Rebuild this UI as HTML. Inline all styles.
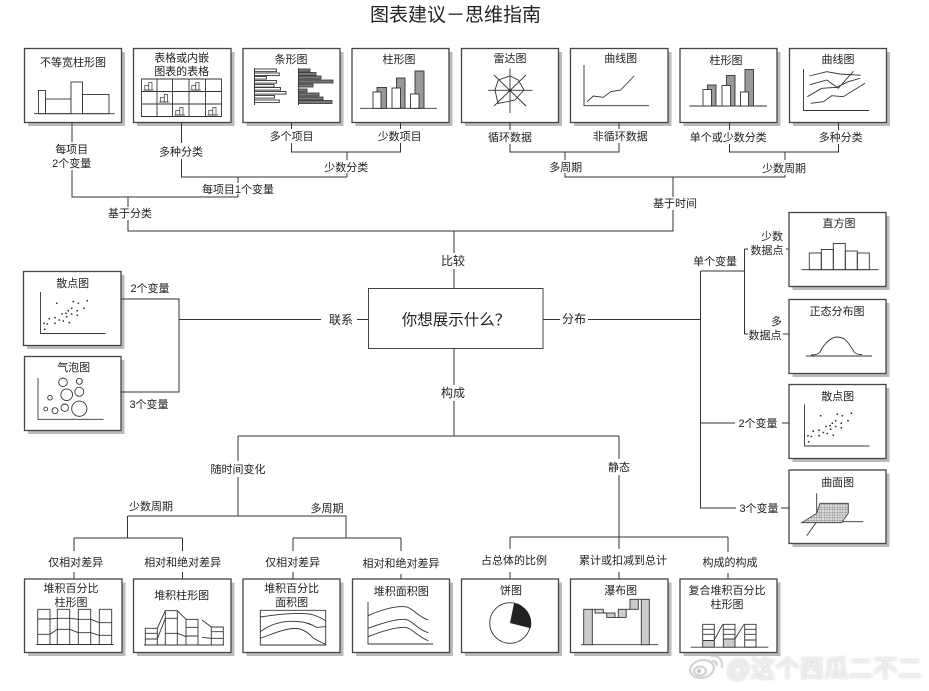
<!DOCTYPE html>
<html lang="zh">
<head>
<meta charset="utf-8">
<title>图表建议－思维指南</title>
<style>
html,body{margin:0;padding:0;background:#fff;width:929px;height:691px;overflow:hidden}
svg{display:block;filter:blur(.3px)}
text{font-family:"Liberation Sans","Noto Sans CJK SC",sans-serif;font-size:11px;fill:#222;text-anchor:middle}
.s{fill:#bbb;stroke:none}
.b{fill:#fff;stroke:#444;stroke-width:1.3}
.c{fill:none;stroke:#333;stroke-width:1}
.g{fill:none;stroke:#333;stroke-width:.9}
.w{fill:#fff;stroke:#333;stroke-width:.9}
.d{fill:#999;stroke:#333;stroke-width:.9}
.k{fill:#777;stroke:#333;stroke-width:.8}
.l{fill:#ccc;stroke:#333;stroke-width:.9}
.wm{font-size:24.5px;fill:#f2f2f2;filter:blur(.5px) drop-shadow(.8px .8px 1.2px #bbb)}
</style>
</head>
<body>
<svg width="929" height="691" viewBox="0 0 929 691" xmlns="http://www.w3.org/2000/svg">
<defs>
<g id="mini">
<rect x="1.3" y="4" width="4" height="4.5" fill="#fff" stroke="#333" stroke-width=".7"/>
<rect x="5.3" y="1" width="3.2" height="7.5" fill="#fff" stroke="#333" stroke-width=".7"/>
<path d="M0 8.5H10.5" stroke="#333" stroke-width=".7" fill="none"/>
</g>
<pattern id="h" width="2.6" height="2.6" patternUnits="userSpaceOnUse">
<rect width="2.6" height="2.6" fill="#ddd"/>
<path d="M0 0H2.6M0 0V2.6" stroke="#666" stroke-width=".55"/>
</pattern>
<g id="dots" fill="#333">
<circle cx="44.7" cy="329.3" r=".9"/><circle cx="44" cy="323.3" r=".9"/><circle cx="47.3" cy="324" r=".9"/><circle cx="49.3" cy="318.7" r=".9"/><circle cx="55" cy="323.3" r=".9"/><circle cx="55" cy="317.7" r=".9"/><circle cx="59.3" cy="320" r=".9"/><circle cx="63.3" cy="321" r=".9"/><circle cx="69.3" cy="322.7" r=".9"/><circle cx="66.7" cy="316.7" r=".9"/><circle cx="62" cy="314" r=".9"/><circle cx="66" cy="313.3" r=".9"/><circle cx="68.3" cy="310.7" r=".9"/><circle cx="71.7" cy="308.3" r=".9"/><circle cx="77.3" cy="310.7" r=".9"/><circle cx="77.3" cy="315.3" r=".9"/><circle cx="71.7" cy="314" r=".9"/><circle cx="56.7" cy="303.3" r=".9"/><circle cx="73.3" cy="301.7" r=".9"/><circle cx="78.3" cy="303.3" r=".9"/><circle cx="87.3" cy="300.7" r=".9"/><circle cx="84" cy="308.3" r=".9"/>
<path class="g" d="M40.5 292V333.5H105.5"/>
</g>
</defs>

<!-- Shadows -->
<g class="s">
<rect x="28" y="52" width="97" height="74"/><rect x="137" y="52" width="97.5" height="74"/><rect x="246.5" y="52" width="97" height="74"/><rect x="355.5" y="52" width="97" height="74"/>
<rect x="465" y="52" width="97" height="74"/><rect x="574" y="52" width="97.5" height="74"/><rect x="683.5" y="52" width="97" height="74"/><rect x="793" y="52" width="97" height="74"/>
<rect x="27" y="275" width="97.5" height="74"/><rect x="28" y="360" width="96.5" height="74"/>
<rect x="792.5" y="216" width="97" height="74"/><rect x="792.5" y="303" width="97" height="74"/><rect x="792.5" y="388" width="97" height="74"/><rect x="792.5" y="473.5" width="97" height="73.5"/>
<rect x="28" y="582.5" width="97.5" height="73.5"/><rect x="137" y="582.5" width="97.5" height="73.5"/><rect x="246.5" y="582.5" width="97" height="73.5"/><rect x="356" y="582.5" width="97" height="73.5"/>
<rect x="465" y="582.5" width="97" height="73.5"/><rect x="574" y="582.5" width="97.5" height="73.5"/><rect x="683.5" y="582.5" width="97" height="73.5"/>
</g>

<!-- Connectors -->
<g class="c">
<path d="M72 122.5V142M72 170V197H238"/>
<path d="M181.5 122.5V143M181.5 159V177H347M347 173V177M238 177V183M238 194V197"/>
<path d="M291.5 122.5V129M291.5 143V152H400.5V143M400.5 122.5V129M347 152V160"/>
<path d="M128 197V207M128 220V231H673V210M673 197V177H565V173M673 177H785V175M565 152V160M785 152V160"/>
<path d="M510 122.5V130M510 144V152H619V143M619 122.5V129"/>
<path d="M729.5 122.5V130M729.5 144V152H838.5V144M838.5 122.5V130"/>
<path d="M454 231V253M454 269V288.5M454 348.5V385M454 401V436"/>
<path d="M121.5 299H179V392H121.5M179 319.5H321M357 319.5H368.5"/>
<path d="M543 319.5H560M588 319.5H700.5"/>
<path d="M700.5 271V508H736M781 508H789M700.5 423H735M782 423H789M700.5 271H744.5M744.5 249V334H748M744.5 249H748M783 334H789M786 249H789"/>
<path d="M238 436H619M238 436V461M238 477V516M619 436V459M619 475V537"/>
<path d="M127.5 516H346V538M127.5 516V538M74 538H182.5M74 538V551M182.5 538V551M293 538H401M293 538V551M401 538V551"/>
<path d="M510 537H728M510 537V549M728 537V552M619 537V549"/>
<path d="M74 572V579M182.5 572V579M293 572V579M401 574V579M510 572V579M619 572V579M728 573V579"/>
</g>

<!-- Boxes -->
<g class="b">
<rect x="24.5" y="48.5" width="97" height="74"/><rect x="133.5" y="48.5" width="97.5" height="74"/><rect x="243" y="48.5" width="97" height="74"/><rect x="352" y="48.5" width="97" height="74"/>
<rect x="461.5" y="48.5" width="97" height="74"/><rect x="570.5" y="48.5" width="97.5" height="74"/><rect x="680" y="48.5" width="97" height="74"/><rect x="789.5" y="48.5" width="97" height="74"/>
<rect x="23.5" y="271.5" width="97.5" height="74"/><rect x="24.5" y="356.5" width="96.5" height="74"/>
<rect x="368.5" y="288.5" width="174.5" height="60" stroke-width="1"/>
<rect x="789" y="212.5" width="97" height="74"/><rect x="789" y="299.5" width="97" height="74"/><rect x="789" y="384.5" width="97" height="74"/><rect x="789" y="470" width="97" height="73.5"/>
<rect x="24.5" y="579" width="97.5" height="73.5"/><rect x="133.5" y="579" width="97.5" height="73.5"/><rect x="243" y="579" width="97" height="73.5"/><rect x="352.5" y="579" width="97" height="73.5"/>
<rect x="461.5" y="579" width="97" height="73.5"/><rect x="570.5" y="579" width="97.5" height="73.5"/><rect x="680" y="579" width="97" height="73.5"/>
</g>

<!-- 不等宽柱形图 -->
<path class="g" d="M34 113.7H114.7"/>
<rect class="g" x="38.5" y="90.5" width="7" height="23.2"/>
<rect class="g" x="45.5" y="99" width="25.5" height="14.7"/>
<rect class="w" x="71" y="82" width="11.5" height="31.7"/>
<rect class="g" x="82.5" y="94.5" width="26.5" height="19.2"/>
<!-- 表格 -->
<path class="g" d="M141.5 79H221.5V116.5H141.5ZM141.5 91.5H221.5M141.5 104H221.5M157 79V116.5M172.5 79V116.5M189 79V116.5M205.5 79V116.5"/>
<use href="#mini" x="143.5" y="81.5"/><use href="#mini" x="190.5" y="81.5"/><use href="#mini" x="159" y="93.5"/><use href="#mini" x="174.5" y="106.5"/><use href="#mini" x="207.5" y="106.5"/>
<!-- 条形图 -->
<g class="w">
<rect x="254.5" y="69" width="22" height="2.6"/><rect x="254.5" y="73" width="24.8" height="2.6"/><rect x="254.5" y="76.5" width="12" height="2.6"/><rect x="254.5" y="80.5" width="22" height="2.6"/><rect x="254.5" y="84.5" width="19.5" height="2.6"/><rect x="254.5" y="87.5" width="26" height="2.6"/><rect x="254.5" y="91.5" width="31.5" height="2.6"/><rect x="254.5" y="95.5" width="20" height="2.6"/><rect x="254.5" y="100" width="24.8" height="2.6"/>
</g>
<path class="g" d="M254.5 68V105M298.5 68V105"/>
<g class="k">
<rect x="298.5" y="69" width="11.5" height="3"/><rect x="298.5" y="72.5" width="17.5" height="3"/><rect x="298.5" y="76" width="22.5" height="3"/><rect x="298.5" y="80" width="34.5" height="3"/><rect x="298.5" y="84" width="14.5" height="3"/><rect x="298.5" y="89" width="8.5" height="3"/><rect x="298.5" y="93" width="20.5" height="3"/><rect x="298.5" y="97" width="24.5" height="3"/><rect x="298.5" y="100.5" width="33.5" height="3"/>
</g>
<!-- 柱形图 1 -->
<path class="g" d="M360 108.3H437"/>
<rect class="d" x="377" y="87.5" width="9.5" height="20.8"/><rect class="w" x="373" y="92" width="8" height="16.3"/>
<rect class="d" x="396.5" y="78" width="8.5" height="30.3"/><rect class="w" x="392" y="88" width="8.5" height="20.3"/>
<rect class="d" x="415" y="71" width="9" height="37.3"/><rect class="w" x="410.5" y="94" width="8.5" height="14.3"/>
<!-- 雷达图 -->
<path class="g" d="M488 90.3H532.5M510 68.5V113M494 75L526 106M526 75L494 106"/>
<path class="g" d="M498.3 80L510 76L518.3 80L524 90L515 100L498 103.5L495 90Z"/>
<circle cx="510" cy="90.3" r="1.6" fill="#333"/>
<!-- 曲线图 1 -->
<path class="g" d="M584 65V105.7H649M587.3 101.7L593.3 96L603.3 97.3L610.7 91.7L620.7 90L634 76"/>
<!-- 柱形图 2 -->
<path class="g" d="M689.5 106H767"/>
<rect class="d" x="707.5" y="85" width="8.5" height="21"/><rect class="w" x="703" y="89.5" width="8.5" height="16.5"/>
<rect class="d" x="726.5" y="75.5" width="8.5" height="30.5"/><rect class="w" x="722" y="85.5" width="8.5" height="20.5"/>
<rect class="d" x="745" y="69.5" width="8.5" height="36.5"/><rect class="w" x="740.5" y="92" width="8" height="14"/>
<!-- 曲线图 2 -->
<path class="g" d="M803.5 69V110.5H869M809.3 76L826.7 71.7L840 74L860.7 75.3M810 84.7L826.7 80L838.3 88.3L853.3 71.3M807.3 96.7L821.7 88.3L836.7 87.3L848.3 81.7L860 78.3M810.7 103.3L823.3 101.7L831.7 95.7L843.3 96.7L865 83.3"/>
<!-- 散点图 / 气泡图 -->
<use href="#dots"/>
<use href="#dots" x="764" y="112.5"/>
<path class="g" d="M38 378V419.3H103.5"/>
<g class="g">
<circle cx="63" cy="382.3" r="4.3"/><circle cx="79.3" cy="381.3" r="3"/><circle cx="66.7" cy="394.7" r="5.8"/><circle cx="79.3" cy="391.7" r="4.5"/><circle cx="50" cy="397.7" r="2.3"/><circle cx="45.7" cy="409" r="1.9"/><circle cx="55" cy="410.7" r="3"/><circle cx="64.7" cy="407.7" r="3.7"/><circle cx="79.3" cy="408.7" r="7.6"/>
</g>
<!-- 直方图 -->
<path class="g" d="M801.3 269.7H878.7"/>
<g class="g">
<rect x="809.3" y="253" width="12" height="16.7"/><rect x="821.3" y="249.5" width="12" height="20.2"/><rect x="833.3" y="243.5" width="12" height="26.2"/><rect x="845.3" y="251" width="12" height="18.7"/><rect x="857.3" y="253" width="12" height="16.7"/>
</g>
<!-- 正态分布图 -->
<path class="g" d="M806 356H872M811 355Q818 355 820 352C825 342 832 337 837 337C845 337 848 342 853 350Q855 355 862 354.5"/>
<!-- 曲面图 -->
<path class="g" d="M816.7 493.3V521.7H863.3M816.7 521.7L806.7 535.7"/>
<path fill="url(#h)" stroke="#333" stroke-width=".8" d="M820 503.3H848.3V513.3L841.7 522.7H801.7L816.7 513.3Z"/>
<!-- 堆积百分比柱形图 -->
<path class="g" d="M36.3 644.5H113.5"/>
<path class="g" d="M37.7 609.3H50V644.5H37.7ZM57.3 609.3H69.7V644.5H57.3ZM78.3 609.3H90.7V644.5H78.3ZM99.3 609.3H111.7V644.5H99.3Z"/>
<path class="g" d="M37.7 619L50 619L57.3 618.3L69.7 618.3L78.3 619.3L90.7 619.3L99.3 622.7L111.7 622.7M37.7 634.3L50 634.3L57.3 629.3L69.7 629.3L78.3 632.7L90.7 632.7L99.3 635.3L111.7 635.3"/>
<!-- 堆积柱形图 -->
<path class="g" d="M144 645H224M145.3 628.3H157.3V645H145.3ZM165.3 610.7H177.3V645H165.3ZM186 619.3H198V645H186ZM211.3 627H223.3V645H211.3Z"/>
<path class="g" d="M145.3 633.3H157.3M145.3 639H157.3M165.3 618.3H177.3M165.3 633.3H177.3M186 627.3H198M186 636H198M211.3 631.7H223.3M211.3 638.3H223.3"/>
<path class="g" d="M157.3 628.3L165.3 610.7M157.3 639L165.3 618.3M177.3 610.7L186 619.3M177.3 633.3L186 636.7M202 620L211.3 627M202 637.3L211.3 638.3"/>
<!-- 堆积百分比面积图 -->
<path class="g" d="M260.3 610.3H325.7V645H260.3Z"/>
<path class="g" d="M260.3 617C280 614 300 612 312 614.5Q320 617 325.7 620.7M260.3 631.7C272 623 285 620.5 297 621.5Q308 622 317 627.5Q320 627 325.7 626.7M260.3 638.3C275 633 285 628.5 295 628.5Q305 628.5 313 638Q320 642 325.7 644.3"/>
<!-- 堆积面积图 -->
<path class="g" d="M368 602V644H433M368 615.7C385 608 398 606 405 606.7C412 607 418 617 428.3 620M368 628.3C385 622 398 619 405 619.3C412 620 418 630 428.3 632.7M368 636.7C385 630 398 627 405 627.3C412 628 418 637 428.3 640.7"/>
<!-- 饼图 -->
<circle class="g" cx="510" cy="623" r="20.3"/>
<path d="M510 623L514 603.3A20.3 20.3 0 0 1 530.7 628.3Z" fill="#222"/>
<!-- 瀑布图 -->
<path class="g" d="M581 644.7H658.3"/>
<rect class="l" x="583.7" y="609.3" width="8.6" height="35.4"/>
<rect class="l" x="641.3" y="599.3" width="8" height="45.4"/>
<rect x="595" y="609.3" width="8.3" height="3.7" fill="#ddd" stroke="#333" stroke-width=".9"/>
<rect class="l" x="606.7" y="613" width="8.3" height="4.4"/>
<rect class="l" x="618.3" y="609.3" width="7.9" height="8.1"/>
<rect class="l" x="630" y="599.3" width="8.3" height="10"/>
<path class="g" d="M592.3 609.3H595M603.3 613H606.7M615 617.4H618.3M626.2 609.3H630M638.3 599.3H641.3"/>
<!-- 复合堆积百分比柱形图 -->
<path class="g" d="M690.7 647.2H768.3"/>
<rect x="702.7" y="640.5" width="11.6" height="6.7" fill="#ccc"/><rect x="723.3" y="639" width="11.7" height="8.2" fill="#ccc"/>
<path class="g" d="M702.7 624.3H714.3V647.2H702.7ZM723.3 624.3H735V647.2H723.3ZM744.7 624.3H756V647.2H744.7Z"/>
<path class="g" d="M702.7 629.3H714.3M702.7 634.3H714.3M702.7 640.5H714.3M723.3 629.3H735M723.3 634.3H735M723.3 639H735M744.7 629.3H756M744.7 634.3H756M744.7 640H756"/>
<path class="g" d="M714.3 640L722.7 624.3M735 639L744 624.3"/>

<!-- Title -->
<text x="455.5" y="21" style="font-size:19px">图表建议－思维指南</text>

<!-- Box titles -->
<text x="73" y="66">不等宽柱形图</text>
<text x="181.7" y="61.5">表格或内嵌</text><text x="181.7" y="75">图表的表格</text>
<text x="291" y="63">条形图</text>
<text x="399" y="63">柱形图</text>
<text x="510" y="62">雷达图</text>
<text x="620.7" y="62">曲线图</text>
<text x="726" y="64">柱形图</text>
<text x="838" y="63">曲线图</text>
<text x="72.7" y="287">散点图</text>
<text x="73.7" y="371">气泡图</text>
<text x="839" y="227">直方图</text>
<text x="837" y="315">正态分布图</text>
<text x="837.7" y="400">散点图</text>
<text x="837.7" y="486">曲面图</text>
<text x="71" y="592">堆积百分比</text><text x="71" y="606">柱形图</text>
<text x="181.7" y="599">堆积柱形图</text>
<text x="291.7" y="592">堆积百分比</text><text x="291.7" y="606">面积图</text>
<text x="401.3" y="595">堆积面积图</text>
<text x="511" y="594">饼图</text>
<text x="620.7" y="594">瀑布图</text>
<text x="727" y="594">复合堆积百分比</text><text x="727" y="608">柱形图</text>

<!-- Connector labels -->
<text x="291.7" y="140">多个项目</text>
<text x="399.7" y="140">少数项目</text>
<text x="510" y="141">循环数据</text>
<text x="620.3" y="140">非循环数据</text>
<text x="728.3" y="141">单个或少数分类</text>
<text x="840.7" y="141">多种分类</text>
<text x="71.7" y="153">每项目</text><text x="71.7" y="167">2个变量</text>
<text x="181" y="155.5">多种分类</text>
<text x="346.3" y="171">少数分类</text>
<text x="238" y="193">每项目1个变量</text>
<text x="130" y="217">基于分类</text>
<text x="565.7" y="171">多周期</text>
<text x="784" y="172">少数周期</text>
<text x="675" y="207">基于时间</text>
<text x="453" y="265" style="font-size:12px">比较</text>
<text x="341" y="324" style="font-size:12px">联系</text>
<text x="574" y="323" style="font-size:12px">分布</text>
<text x="453" y="397" style="font-size:12px">构成</text>
<text x="456" y="325" style="font-size:15.5px">你想展示什么？</text>
<text x="150" y="292">2个变量</text>
<text x="149" y="408">3个变量</text>
<text x="772" y="240">少数</text><text x="767" y="254">数据点</text>
<text x="776.5" y="325">多</text><text x="765" y="339">数据点</text>
<text x="715" y="265">单个变量</text>
<text x="758" y="427">2个变量</text>
<text x="759" y="512">3个变量</text>
<text x="238" y="473">随时间变化</text>
<text x="619" y="471">静态</text>
<text x="151" y="510">少数周期</text>
<text x="327" y="512">多周期</text>
<text x="75.7" y="566">仅相对差异</text>
<text x="182.7" y="566">相对和绝对差异</text>
<text x="292.7" y="566">仅相对差异</text>
<text x="401" y="567">相对和绝对差异</text>
<text x="514" y="564">占总体的比例</text>
<text x="623" y="564">累计或扣减到总计</text>
<text x="730" y="566">构成的构成</text>

<!-- Watermark -->
<g fill="none" stroke="#bdbdbd" stroke-width="1.5" style="filter:blur(.4px)">
<ellipse cx="702" cy="669" rx="12" ry="8.8" transform="rotate(-12 702 669)"/>
<ellipse cx="700" cy="671" rx="6" ry="4.5"/>
<circle cx="699" cy="671" r="1.2" fill="#bdbdbd"/>
<path d="M712 661Q717 661 717 666M711 656Q723 655 722 668"/>
</g>
<text class="wm" x="824" y="677">@这个西瓜二不二</text>
</svg>
</body>
</html>
